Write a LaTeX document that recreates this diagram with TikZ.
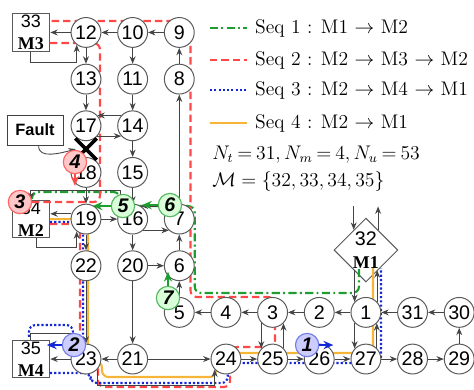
\documentclass[tikz,border=0pt,12pt]{standalone}
\usepackage{fontspec}
\newfontfamily\arialfont{Liberation Sans}
\newfontfamily\timesfont{Liberation Serif}
\usetikzlibrary{positioning, arrows.meta, shapes.geometric, calc}
\definecolor{seqgreen}{HTML}{1E9E2E}
\definecolor{seqred}{HTML}{FF4848}
\definecolor{seqblue}{HTML}{1428D8}
\definecolor{seqyellow}{HTML}{F7B538}
\definecolor{linkgray}{HTML}{444444}

\begin{document}
\begin{tikzpicture}[
      every node/.style={font=\arialfont},
      cell/.style={circle, draw=black!65, fill=white, line width=0.6pt,
                   minimum size=0.64cm, inner sep=0pt},
      mbox/.style={draw=black!65, fill=white, line width=0.6pt,
                   minimum size=0.81cm, inner sep=0pt, align=center,
                   font=\arialfont\small},
      mdia/.style={diamond, draw=black!65, fill=white, line width=0.6pt,
                   minimum width=1.37cm, minimum height=1.37cm, inner sep=0pt},
      link/.style={->, draw=linkgray, line width=0.55pt},
      route/.style={line width=1.3pt, rounded corners=4pt},
      sone/.style={route, seqgreen, dash pattern=on 5pt off 2pt on 1.2pt off 2pt},
      stwo/.style={route, seqred, dash pattern=on 4.5pt off 2.5pt},
      sthree/.style={route, seqblue, dash pattern=on 1.3pt off 1.3pt},
      sfour/.style={route, seqyellow},
      tag/.style={circle, line width=0.7pt, minimum size=0.5cm, inner sep=0pt,
                  font=\arialfont\bfseries\itshape},
      taggreen/.style={tag, draw=seqgreen!75, fill=green!15},
      tagred/.style={tag, draw=seqred!85, fill=red!22},
      tagblue/.style={tag, draw=seqblue!60, fill=blue!20},
      tagarrow/.style={-{Stealth[length=6pt, width=5pt]}, line width=1.1pt},
      >={Stealth[length=4.5pt, width=3.6pt]},
    ]
    \useasboundingbox (-1.843,-0.643) rectangle (8.317,7.696);

    % machines
    \node[mbox] (m3) at (-1.18,7) {33\\{\timesfont\bfseries M3}};
    \node[mbox] (m2) at (-1.18,3) {34\\{\timesfont\bfseries M2}};
    \node[mbox] (m4) at (-1.18,0) {35\\{\timesfont\bfseries M4}};
    \node[mdia, label={[align=center, font=\arialfont]center:{32\\{\timesfont\bfseries\small M1}}}]
      (m1) at (6,2.336) {};
    \node[draw=black!75, fill=white, minimum width=1.2cm, minimum height=0.64cm,
          font=\arialfont\bfseries\footnotesize] (faultbox) at (-1.093,4.909) {Fault};

    % sequences
    \draw[sone] (5.852,1.93) -- (5.852,1.415) -- (2.33,1.415) -- (2.33,3.28)
      -- (0.729,3.28) -- (0.729,3.58) -- (-1.158,3.58) -- (-1.158,3.43);
    \draw[stwo] (-0.772,2.894) -- (-0.129,2.894) -- (-0.129,0) -- (0.257,0)
      -- (0.257,-0.6) -- (3.09,-0.6) -- (3.09,0.257) -- (4.051,0.257)
      -- (4.051,1.329) -- (2.24,1.329) -- (2.24,7.245) -- (-0.772,7.245);
    \draw[stwo] (-0.772,6.774) -- (0.3,6.774) -- (0.3,3.365) -- (-1.158,3.365);
    \draw[sthree] (-0.772,2.937) -- (-0.064,2.937) -- (-0.064,0);
    \draw[sthree] (-0.28,0.2) -- (-0.28,0.729) -- (-1.222,0.729) -- (-1.222,0.45);
    \draw[sthree] (-0.772,-0.3) -- (0.1,-0.3) -- (0.1,-0.514) -- (3.04,-0.514)
      -- (3.04,-0.086) -- (6.324,-0.086) -- (6.324,1.95);
    \draw[sfour] (-0.772,3.0) -- (0.043,3.0) -- (0.043,-0.05) -- (0.343,-0.05)
      -- (0.343,-0.386) -- (2.787,-0.386) -- (2.787,0.129) -- (6.152,0.129)
      -- (6.152,1.95);

    % cells
    \node[cell] (n12) at (0,7) {12};
    \node[cell] (n10) at (1,7) {10};
    \node[cell] (n9)  at (2,7) {9};
    \node[cell] (n13) at (0,6) {13};
    \node[cell] (n11) at (1,6) {11};
    \node[cell] (n8)  at (2,6) {8};
    \node[cell] (n17) at (0,5) {17};
    \node[cell] (n14) at (1,5) {14};
    \node[cell] (n18) at (0,4) {18};
    \node[cell] (n15) at (1,4) {15};
    \node[cell] (n19) at (0,3) {19};
    \node[cell] (n16) at (1,3) {16};
    \node[cell] (n7)  at (2,3) {7};
    \node[cell] (n22) at (0,2) {22};
    \node[cell] (n20) at (1,2) {20};
    \node[cell] (n6)  at (2,2) {6};
    \node[cell] (n5)  at (2,1) {5};
    \node[cell] (n4)  at (3,1) {4};
    \node[cell] (n3)  at (4,1) {3};
    \node[cell] (n2)  at (5,1) {2};
    \node[cell] (n1)  at (6,1) {1};
    \node[cell] (n31) at (7,1) {31};
    \node[cell] (n30) at (8,1) {30};
    \node[cell] (n23) at (0,0) {23};
    \node[cell] (n21) at (1,0) {21};
    \node[cell] (n24) at (3,0) {24};
    \node[cell] (n25) at (4,0) {25};
    \node[cell] (n26) at (5,0) {26};
    \node[cell] (n27) at (6,0) {27};
    \node[cell] (n28) at (7,0) {28};
    \node[cell] (n29) at (8,0) {29};

    % links
    \draw[link] (n9) -- (n10);
    \draw[link] (n10) -- (n12);
    \draw[link] (n12) -- (m3);
    \draw[link] (m3.south) -- ++(0,-0.22) -| (n12.233);
    \draw[link] (n12) -- (n13);
    \draw[link] (n13) -- (n17);
    \draw[link] (n10) -- (n11);
    \draw[link] (n11) -- (n14);
    \draw[link] (n14.138) -- (n17.42);
    \draw[link] (n17.318) -- (n14.222);
    \draw[link] (n14) -- (n15);
    \draw[link] (n15) -- (n16);
    \draw[link] (n18) -- (n19);
    \draw[link] (n19) -- (n16);
    \draw[link] (n19.160) -- (n19.160 -| m2.east);
    \draw[link] ([xshift=0.12cm]m2.south) -- ++(0,-0.2) -| (n19.233);
    \draw[link] (n16.140) -- ++(0,0.41) -| (m2.north);
    \draw[link] (n7.122) -- (n16.58);
    \draw[link] (n16.313) -- (n7.227);
    \draw[link] (n7) -- (n8);
    \draw[link] (n8) -- (n9);
    \draw[link] (n16) -- (n20);
    \draw[link] (n20) -- (n6);
    \draw[link] (n6) -- (n7);
    \draw[link] (n5) -- (n6);
    \draw[link] (n20) -- (n21);
    \draw[link] (n19) -- (n22);
    \draw[link] (n22) -- (n23);
    \draw[link] (n4) -- (n5);
    \draw[link] (n3) -- (n4);
    \draw[link] (n2) -- (n3);
    \draw[link] (n1) -- (n2);
    \draw[link] (n31) -- (n1);
    \draw[link] (n30) -- (n31);
    \draw[link] (n29) -- (n30);
    \draw[link] (n28) -- (n29);
    \draw[link] (n27) -- (n28);
    \draw[link] (n26) -- (n27);
    \draw[link] (n25) -- (n26);
    \draw[link] (n24) -- (n25);
    \draw[link] (n21) -- (n24);
    \draw[link] (n21) -- (n23);
    \draw[link] (n23) -- (m4);
    \draw[link] (m4.north) -- ++(0,0.13) -| (n23.155);
    \draw[link] (n23.317) -- ++(0,-0.33) -| (n24.223);
    \draw[link] (n3.223) -- (n25.137);
    \draw[link] (n25.45) -- (n3.315);
    \draw[link] (n1.223) -- (n27.137);
    \draw[link] (n27.45) -- (n1.315);
    \draw[link] (n1.137 |- m1.239) -- (n1.137);
    \draw[link] (n1.43) -- (n1.43 |- m1.301);
    \draw[link] ([yshift=0.5cm]m1.121) -- (m1.121);
    \draw[link] (m1.59) -- ([yshift=0.5cm]m1.59);

    % fault
    \coordinate (cut) at (0,4.5);
    \draw[line width=2.2pt] ([shift={(-0.23,0.23)}]cut) -- ([shift={(0.23,-0.23)}]cut);
    \draw[line width=2.2pt] ([shift={(-0.23,-0.23)}]cut) -- ([shift={(0.23,0.23)}]cut);
    \draw[link] ([xshift=0.08cm]faultbox.south) to[out=-95, in=195] ([xshift=-0.22cm]cut);

    % tags
    \node[tagblue]  (b1) at (4.74,0.30) {1};
    \node[tagblue]  (b2) at (-0.257,0.30) {2};
    \node[tagred]   (b3) at (-1.415,3.366) {3};
    \node[tagred]   (b4) at (-0.236,4.223) {4};
    \node[taggreen] (b5) at (0.793,3.28) {5};
    \node[taggreen] (b6) at (1.80,3.30) {6};
    \node[taggreen] (b7) at (1.758,1.308) {7};
    \draw[tagarrow, seqblue] (b1.east) -- ++(0.3,0);
    \draw[tagarrow, seqblue] (b2.west) -- ++(-0.32,0);
    \draw[tagarrow, seqred] (b4.south) -- ++(0,-0.25);
    \draw[tagarrow, seqgreen] (b5.west) -- ++(-0.39,0);
    \draw[tagarrow, seqgreen] (b6.west) -- ++(-0.34,0);
    \draw[tagarrow, seqgreen] (b7.north) -- ++(0,0.3);

    % legend
    \draw[sone]   (2.658,7.095) -- (3.451,7.095);
    \draw[stwo]   (2.658,6.41)  -- (3.451,6.41);
    \draw[sthree] (2.658,5.766) -- (3.451,5.766);
    \draw[sfour]  (2.658,5.059) -- (3.451,5.059);
    \node[anchor=west, inner sep=0pt, font=\rmfamily] (leg1) at (3.62,7.095) {Seq 1 : M1 $\rightarrow$ M2};
    \node[anchor=west, inner sep=0pt, font=\rmfamily] (leg2) at (3.62,6.41) {Seq 2 : M2 $\rightarrow$ M3 $\rightarrow$ M2};
    \node[anchor=west, inner sep=0pt, font=\rmfamily] (leg3) at (3.62,5.766) {Seq 3 : M2 $\rightarrow$ M4 $\rightarrow$ M1};
    \node[anchor=west, inner sep=0pt, font=\rmfamily] (leg4) at (3.62,5.059) {Seq 4 : M2 $\rightarrow$ M1};
    \node[anchor=west, inner sep=0pt, font=\rmfamily\fontsize{11.5}{13}\selectfont] (stats) at (2.70,4.373)
      {$\thickmuskip=3.5mu N_t = 31, N_m = 4, N_u = 53$};
    \node[anchor=west, inner sep=0pt, font=\rmfamily] (mset) at (2.70,3.794) {$\mathcal{M} = \{32, 33, 34, 35\}$};
\end{tikzpicture}
\end{document}
